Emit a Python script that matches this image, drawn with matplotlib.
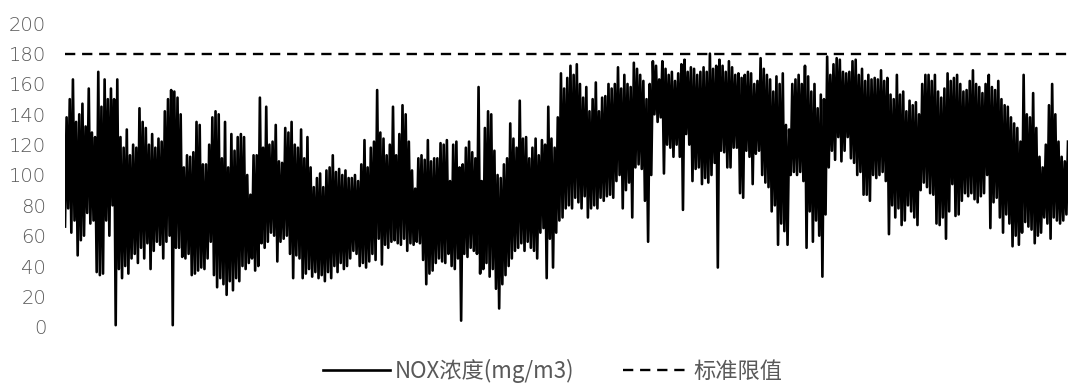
import numpy as np
import matplotlib
matplotlib.use("Agg")
import matplotlib.pyplot as plt

plt.rcParams['font.family'] = ['Noto Sans CJK SC', 'DejaVu Sans']
plt.rcParams['lines.scale_dashes'] = False

# NOX concentration readings (mg/m3), in time order
nox = [
    66, 138, 78, 150, 62, 163, 70, 135, 47, 140, 57, 147, 60, 132, 75, 157, 68, 128, 70, 125,
    36, 168, 34, 145, 35, 163, 70, 150, 60, 157, 80, 150, 1, 163, 38, 125, 32, 118, 40, 130,
    35, 113, 45, 120, 48, 118, 42, 144, 52, 135, 45, 131, 55, 120, 38, 127, 50, 118, 56, 124,

    54, 122, 45, 142, 56, 150, 60, 156, 1, 155, 52, 151, 52, 140, 46, 105, 45, 113, 48, 112,
    34, 115, 35, 135, 37, 133, 39, 107, 38, 107, 45, 120, 56, 138, 34, 142, 26, 140, 32, 111,
    28, 135, 21, 105, 30, 127, 24, 116, 32, 125, 30, 127, 40, 125, 38, 100, 42, 87, 45, 113,

    37, 113, 40, 151, 55, 118, 52, 145, 56, 120, 62, 122, 60, 133, 43, 109, 56, 108, 58, 131,
    60, 128, 48, 135, 32, 120, 47, 118, 45, 130, 32, 111, 35, 125, 38, 105, 33, 92, 36, 98,
    32, 101, 34, 92, 30, 103, 36, 105, 32, 113, 40, 102, 36, 104, 42, 100, 38, 103, 40, 98,

    45, 98, 50, 100, 48, 96, 40, 107, 42, 123, 39, 105, 43, 118, 48, 122, 44, 156, 58, 128,
    41, 124, 54, 113, 52, 120, 56, 145, 57, 113, 55, 127, 54, 146, 58, 140, 50, 122, 55, 103,
    54, 91, 56, 111, 55, 113, 44, 110, 28, 123, 35, 109, 37, 111, 42, 111, 45, 121, 43, 120,

    42, 123, 48, 96, 40, 120, 38, 122, 45, 105, 4, 107, 48, 118, 46, 122, 52, 115, 50, 111,
    48, 158, 35, 96, 38, 131, 42, 142, 33, 140, 38, 116, 25, 100, 12, 98, 28, 107, 34, 111,
    40, 134, 45, 124, 50, 118, 52, 149, 55, 124, 50, 125, 56, 111, 52, 118, 50, 124, 45, 113,

    62, 123, 65, 120, 32, 145, 58, 124, 39, 118, 62, 138, 70, 167, 72, 157, 78, 164, 80, 172,
    78, 166, 85, 173, 82, 160, 78, 151, 86, 158, 72, 142, 78, 150, 80, 161, 78, 142, 85, 151,
    83, 152, 86, 160, 87, 157, 85, 160, 96, 171, 100, 157, 78, 166, 90, 160, 95, 158, 72, 174,

    105, 170, 107, 166, 104, 162, 83, 150, 56, 160, 100, 175, 140, 172, 135, 163, 138, 175, 101, 170,
    120, 166, 118, 168, 112, 162, 120, 167, 112, 173, 77, 176, 127, 168, 120, 171, 96, 170, 104, 166,
    105, 168, 94, 171, 98, 168, 95, 180, 100, 170, 108, 172, 39, 176, 116, 172, 115, 168, 105, 175,

    105, 171, 118, 166, 118, 167, 88, 164, 85, 166, 116, 168, 112, 167, 94, 160, 114, 162, 116, 177,
    100, 170, 95, 166, 92, 163, 76, 155, 80, 165, 54, 160, 68, 167, 63, 133, 54, 130, 100, 160,
    102, 163, 100, 166, 102, 160, 96, 172, 52, 165, 76, 155, 56, 160, 70, 144, 60, 153, 33, 150,

    74, 178, 105, 166, 116, 173, 110, 177, 125, 176, 109, 168, 116, 167, 125, 168, 111, 175, 108, 176,
    100, 166, 102, 170, 87, 162, 87, 166, 83, 163, 100, 164, 98, 163, 100, 169, 102, 162, 96, 164,
    61, 153, 80, 150, 72, 166, 78, 153, 67, 155, 70, 142, 80, 149, 76, 146, 72, 148, 67, 140,

    90, 160, 95, 166, 92, 166, 88, 162, 87, 166, 68, 155, 67, 151, 72, 157, 58, 167, 76, 162,
    94, 164, 73, 166, 74, 160, 83, 155, 88, 156, 86, 162, 88, 169, 84, 160, 82, 158, 86, 154,
    88, 160, 100, 166, 65, 158, 82, 156, 85, 162, 72, 150, 62, 146, 74, 145, 68, 138, 53, 134,
    60, 131, 54, 122, 62, 166, 69, 140, 66, 138, 64, 154, 55, 131, 60, 112, 62, 105, 72, 120,
    68, 146, 58, 160, 72, 140, 70, 122, 68, 112, 70, 109, 74, 122,
]

limit = 180  # emission standard
y_ticks = [0, 20, 40, 60, 80, 100, 120, 140, 160, 180, 200]

text_color = '#595959'

fig = plt.figure(figsize=(10.7, 3.87), dpi=100)
ax = fig.add_axes([65 / 1070, 1 - 326.7 / 387, 1003 / 1070, 303.4 / 387])

x = np.arange(len(nox))
ax.plot(x, nox, color='black', linewidth=1.9, label='NOX浓度(mg/m3)')
ax.plot(x, [limit] * len(x), color='black', linewidth=1.7,
        dashes=(7.4, 4.9), label='标准限值')

ax.set_xlim(0, len(nox) - 1)
ax.set_ylim(0, 200)
ax.set_yticks(y_ticks)
ax.set_xticks([])
ax.tick_params(axis='y', length=0, pad=13.5, labelcolor=text_color)
for lbl in ax.get_yticklabels():
    lbl.set_family(['DejaVu Sans'])
    lbl.set_fontsize(14)
    lbl.set_fontweight('light')
for s in ax.spines.values():
    s.set_visible(False)

leg = fig.legend(loc='center', bbox_to_anchor=(553 / 1070, 1 - 371 / 387),
                 ncol=2, frameon=False, fontsize=16, handlelength=3.0,
                 handletextpad=0.2, columnspacing=2.2)
for t in leg.get_texts():
    t.set_color(text_color)
    t.set_fontweight('light')

fig.savefig('out.png', dpi=100)
